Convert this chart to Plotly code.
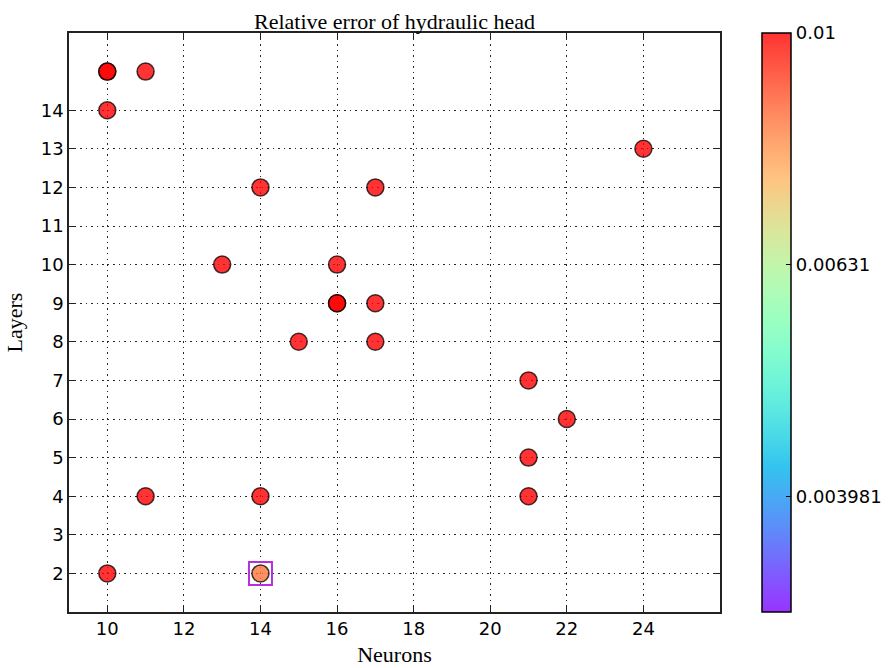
import numpy as np
import plotly.graph_objects as go

# Network configurations (neurons per layer, number of layers) and their relative error
neurons = [10, 10, 11, 10, 24, 14, 17, 13, 16, 16, 16, 17, 15, 17, 21, 22, 21, 11, 14, 21, 10, 14]
layers = [15, 15, 15, 14, 13, 12, 12, 10, 10, 9, 9, 9, 8, 8, 7, 6, 5, 4, 4, 4, 2, 2]
rel_error = [0.0125, 0.0118, 0.0131, 0.0112, 0.0140, 0.0127, 0.0119, 0.0133, 0.0115,
             0.0121, 0.0129, 0.0117, 0.0124, 0.0136, 0.0110, 0.0122, 0.0114, 0.0128,
             0.0119, 0.0126, 0.0113, 0.0084]

# Best configuration (highlighted)
best_neurons = [14]
best_layers = [2]

x_ticks = [10, 12, 14, 16, 18, 20, 22, 24]
y_ticks = list(range(2, 15))
cbar_vals = [0.003981, 0.00631, 0.01]
cbar_text = ["0.003981", "0.00631", "0.01"]

LOG_MIN, LOG_MAX = -2.5, -2.0
ALPHA = 0.8


def rainbow_scale(n=21, alpha=ALPHA):
    scale = []
    for t in np.linspace(0, 1, n):
        r = min(1.0, abs(2 * t - 0.5))
        g = np.sin(np.pi * t)
        b = np.cos(np.pi * t / 2)
        scale.append([float(t), f"rgba({int(r*255)},{int(g*255)},{int(b*255)},{alpha})"])
    return scale


log_err = np.clip(np.log10(rel_error), LOG_MIN, LOG_MAX)

fig = go.Figure()

fig.add_trace(go.Scatter(
    x=neurons, y=layers, mode="markers",
    marker=dict(
        size=17,
        color=log_err,
        colorscale=rainbow_scale(),
        cmin=LOG_MIN, cmax=LOG_MAX,
        line=dict(color="rgba(0,0,0,0.75)", width=1.5),
        colorbar=dict(
            tickvals=list(np.log10(cbar_vals)),
            ticktext=cbar_text,
            ticks="inside", ticklen=5, tickcolor="black",
            x=1.0645, xanchor="left", xpad=0,
            y=0.5, yanchor="middle", len=1.0, lenmode="fraction", ypad=0,
            thickness=29, thicknessmode="pixels",
            outlinecolor="black", outlinewidth=1.5,
            tickfont=dict(family="DejaVu Sans", size=18, color="black"),
        ),
    ),
    showlegend=False, hoverinfo="x+y",
))

fig.add_trace(go.Scatter(
    x=best_neurons, y=best_layers, mode="markers",
    marker=dict(symbol="square-open", size=23, color="#b230e0", line=dict(width=2, color="#b230e0")),
    showlegend=False,
))

axis_common = dict(
    showline=True, linecolor="#222", linewidth=1.5, mirror="allticks",
    ticks="inside", ticklen=6, tickcolor="#222", tickwidth=1,
    showgrid=True, gridcolor="rgba(0,0,0,0.85)", gridwidth=1, griddash="1.5px,4px",
    zeroline=False, automargin=False,
    tickfont=dict(family="DejaVu Sans", size=18, color="black"),
)

serif = dict(family="Liberation Serif", size=22, color="black")

fig.update_xaxes(
    range=[9, 26], tickvals=x_ticks,
    title=dict(text="Neurons", font=serif, standoff=8),
    **axis_common,
)
fig.update_yaxes(
    range=[1, 16], tickvals=y_ticks,
    title=dict(text="Layers", font=serif, standoff=12),
    **axis_common,
)

fig.update_layout(
    width=893, height=668,
    margin=dict(l=69, r=173, t=33, b=56, autoexpand=False),
    paper_bgcolor="white", plot_bgcolor="white",
    title=dict(text="Relative error of hydraulic head", xref="paper", x=0.5, xanchor="center",
               yref="paper", y=1, yanchor="bottom", pad=dict(b=4), font=serif),
)

fig.write_html("out.html")
